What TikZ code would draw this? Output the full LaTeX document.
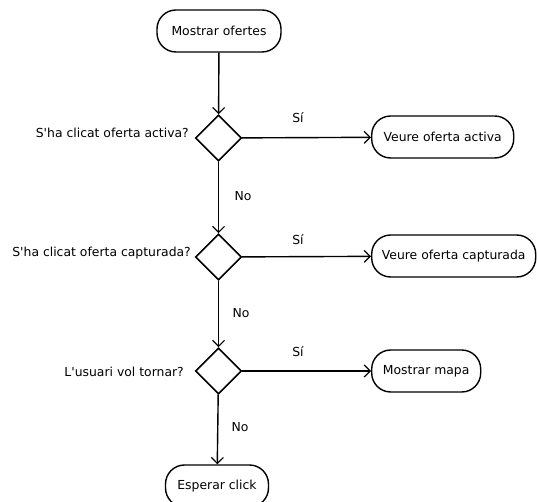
\documentclass[tikz,border=0pt]{standalone}
\usepackage{fontspec}
\setmainfont{DejaVu Sans}
\usetikzlibrary{arrows.meta,shapes.geometric}
\newcommand{\apos}{\textquotesingle}
\begin{document}
\begin{tikzpicture}[x=1pt,y=-1pt,
  every node/.style={font=\fontsize{12.4}{14}\selectfont},
  terminal/.style={draw,line width=1.4pt,rounded corners=19pt,minimum height=42pt,inner xsep=4pt},
  decision/.style={draw,line width=1.6pt,diamond,minimum width=46pt,minimum height=46pt,inner sep=0pt,aspect=1},
  flow/.style={line width=1.4pt,-{Straight Barb[length=6pt,width=12pt,line width=1.2pt]}},
  lbl/.style={inner sep=0pt}]
\useasboundingbox (0,0) rectangle (538,502);

% main column
\node[terminal,minimum width=124pt] (start) at (219,31) {Mostrar ofertes};
\node[decision] (d1) at (218.5,138) {};
\node[decision] (d2) at (218.5,257) {};
\node[decision] (d3) at (218.5,371) {};
\node[terminal,minimum width=103pt] (end) at (217,486) {Esperar click};

% outcomes
\node[terminal,anchor=west,minimum width=142pt] (r1) at (371,137) {Veure oferta activa};
\node[terminal,anchor=west,minimum width=164pt] (r2) at (371,256) {Veure oferta capturada};
\node[terminal,anchor=west,minimum width=109pt] (r3) at (371,371) {Mostrar mapa};

% questions
\node[lbl,anchor=east] (q1) at (189,133) {S\apos ha clicat oferta activa?};
\node[lbl,anchor=east] (q2) at (191,253) {S\apos ha clicat oferta capturada?};
\node[lbl,anchor=east] (q3) at (184,372) {L\apos usuari vol tornar?};

% connectors
\draw[flow] (start) -- (d1);
\draw[flow] (d1) -- (d2);
\draw[flow] (d2) -- (d3);
\draw[flow] (d3) -- (end);
\draw[flow] (d1) -- (r1);
\draw[flow] (d2) -- (r2);
\draw[flow] (d3) -- (r3);

% branch labels
\node[lbl] (s1) at (298,118) {Sí};
\node[lbl] (s2) at (298,240) {Sí};
\node[lbl] (s3) at (298,352) {Sí};
\node[lbl] (n1) at (243,196) {No};
\node[lbl] (n2) at (241,313) {No};
\node[lbl] (n3) at (240,427) {No};
\end{tikzpicture}
\end{document}
